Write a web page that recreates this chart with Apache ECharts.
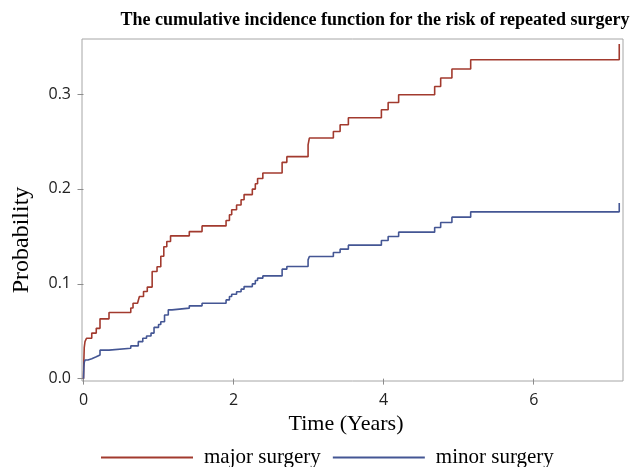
<!DOCTYPE html>
<html>
<head>
<meta charset="utf-8">
<script src="https://cdn.jsdelivr.net/npm/echarts@6/dist/echarts.min.js"></script>
<style>
  html, body { margin: 0; padding: 0; background: #fff; }
  #chart { width: 632px; height: 467px; }
</style>
</head>
<body>
<div id="chart"></div>
<script>
// time (years) and cumulative incidence
var majorTime = [0, 0.005, 0.01, 0.02, 0.04, 0.11, 0.17, 0.22, 0.34, 0.63, 0.66, 0.72, 0.745, 0.80, 0.85, 0.915,
  0.98, 1.03, 1.07, 1.11, 1.16, 1.41, 1.58, 1.90, 1.945, 1.975, 2.04, 2.10, 2.14, 2.25, 2.29, 2.32, 2.39,
  2.647, 2.71, 2.993, 3.01, 3.33, 3.42, 3.53, 3.97, 4.06, 4.20, 4.68, 4.76, 4.91, 5.16, 7.14];
var majorProb = [0, 0.02, 0.033, 0.039, 0.0426, 0.048, 0.053, 0.063, 0.0697, 0.0745, 0.0795, 0.081, 0.0865, 0.0918, 0.0965, 0.113,
  0.118, 0.129, 0.139, 0.1445, 0.1505, 0.155, 0.161, 0.1667, 0.1727, 0.178, 0.183, 0.1885, 0.194, 0.1998, 0.2054, 0.211, 0.2167,
  0.228, 0.234, 0.2465, 0.2536, 0.2605, 0.2676, 0.275, 0.2834, 0.291, 0.2993, 0.308, 0.3169, 0.3264, 0.3362, 0.3527];

var minorTime = [0, 0.005, 0.01, 0.02, 0.06, 0.11, 0.17, 0.22, 0.34, 0.63, 0.73, 0.79, 0.84, 0.90, 0.94, 1.00,
  1.03, 1.08, 1.13, 1.18, 1.41, 1.58, 1.90, 1.945, 1.975, 2.04, 2.10, 2.14, 2.25, 2.29, 2.32, 2.39,
  2.647, 2.71, 2.993, 3.01, 3.33, 3.42, 3.53, 3.97, 4.06, 4.20, 4.68, 4.76, 4.91, 5.16, 7.14];
var minorProb = [0, 0.012, 0.017, 0.0197, 0.021, 0.023, 0.025, 0.030, 0.032, 0.0345, 0.039, 0.0426, 0.045, 0.048, 0.054, 0.057,
  0.060, 0.067, 0.0725, 0.0743, 0.0767, 0.0795, 0.083, 0.0865, 0.089, 0.0915, 0.0943, 0.097, 0.0999, 0.1034, 0.1059, 0.1083,
  0.1154, 0.1182, 0.1252, 0.1287, 0.1329, 0.1365, 0.1407, 0.1456, 0.1498, 0.1544, 0.1593, 0.1646, 0.1702, 0.1758, 0.185];

var xTicks = [0, 2, 4, 6];
var yTicks = [0, 0.1, 0.2, 0.3];
var seriesNames = ['major surgery', 'minor surgery'];

function pairs(t, p) {
  return t.map(function (v, i) { return [v, p[i]]; });
}

var chart = echarts.init(document.getElementById('chart'));
var serif = '"Liberation Serif", "Times New Roman", serif';
var sans = '"Open Sans", "Noto Sans", sans-serif';

chart.setOption({
  animation: false,
  backgroundColor: '#fff',
  title: {
    text: 'The cumulative incidence function for the risk of repeated surgery',
    left: 370, top: 6, textAlign: 'center',
    textStyle: { fontFamily: serif, fontWeight: 'bold', fontSize: 18, color: '#000' }
  },
  grid: {
    left: 82, right: 9, top: 39, bottom: 86,
    show: true, borderColor: '#a6a6a6', borderWidth: 1
  },
  xAxis: {
    type: 'value', min: -0.02, max: 7.19,
    splitLine: { show: false },
    axisLine: { show: false },
    axisTick: { show: true, length: 6, customValues: xTicks, lineStyle: { color: '#8c8c8c' } },
    axisLabel: { customValues: xTicks, margin: 11, fontFamily: sans, fontSize: 16, color: '#222' }
  },
  yAxis: {
    type: 'value', min: -0.0025, max: 0.358,
    splitLine: { show: false },
    axisLine: { show: false },
    axisTick: { show: true, length: 6, customValues: yTicks, lineStyle: { color: '#8c8c8c' } },
    axisLabel: {
      customValues: yTicks, margin: 11, fontFamily: sans, fontSize: 16, color: '#222',
      formatter: function (v) { return v.toFixed(1); }
    }
  },
  legend: {
    top: 442, left: 96,
    itemWidth: 92, itemHeight: 2, itemGap: 12, icon: 'rect',
    data: seriesNames,
    textStyle: { fontFamily: serif, fontSize: 21, color: '#000', padding: [0, 0, 0, 6] }
  },
  graphic: [
    {
      type: 'text', x: 346, y: 413,
      style: { text: 'Time (Years)', font: '22px ' + serif, fill: '#000', align: 'center' }
    },
    {
      type: 'text', x: 10, y: 240, rotation: Math.PI / 2,
      style: { text: 'Probability', font: '24px ' + serif, fill: '#000', align: 'center', verticalAlign: 'top' }
    }
  ],
  series: [
    {
      name: seriesNames[0], type: 'line', step: 'end', showSymbol: false,
      data: pairs(majorTime, majorProb),
      lineStyle: { color: '#a23a2e', width: 1.6 }, itemStyle: { color: '#a23a2e' }
    },
    {
      name: seriesNames[1], type: 'line', step: 'end', showSymbol: false,
      data: pairs(minorTime, minorProb),
      lineStyle: { color: '#445694', width: 1.6 }, itemStyle: { color: '#445694' }
    }
  ]
});
</script>
</body>
</html>
